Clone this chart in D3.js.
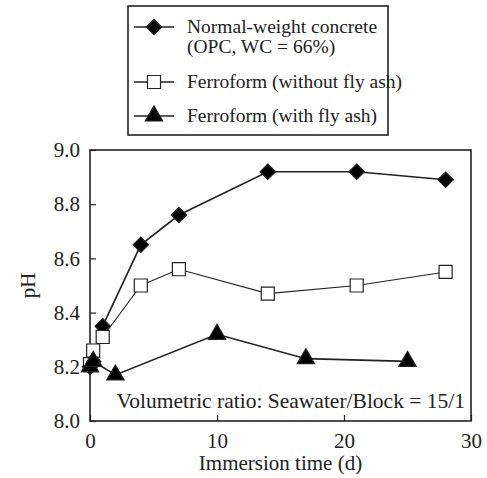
<!DOCTYPE html>
<html>
<head>
<meta charset="utf-8">
<script src="https://cdn.jsdelivr.net/npm/d3@7"></script>
<style>
body { margin: 0; background: #fff; }
text { font-family: "Liberation Serif", "Times New Roman", serif; fill: #222; }
</style>
</head>
<body>
<script>
// data
var normalDays = [0, 0.25, 1, 4, 7, 14, 21, 28];
var normalPH   = [8.20, 8.22, 8.35, 8.65, 8.76, 8.92, 8.92, 8.89];
var noAshDays  = [0, 0.25, 1, 4, 7, 14, 21, 28];
var noAshPH    = [8.21, 8.26, 8.31, 8.50, 8.56, 8.47, 8.50, 8.55];
var ashDays    = [0, 0.25, 2, 10, 17, 25];
var ashPH      = [8.20, 8.22, 8.17, 8.32, 8.23, 8.22];
var xTicks = [0, 10, 20, 30];
var yTicks = [8.0, 8.2, 8.4, 8.6, 8.8, 9.0];
var legendLabels = [["Normal-weight concrete", "(OPC, WC = 66%)"], ["Ferroform (without fly ash)"], ["Ferroform (with fly ash)"]];

var width = 487, height = 478;
var margin = {top: 150, right: 16, bottom: 57, left: 90};
var w = width - margin.left - margin.right,
    h = height - margin.top - margin.bottom;

var svg = d3.select("body").append("svg")
    .attr("width", width)
    .attr("height", height);

var g = svg.append("g")
    .attr("transform", "translate(" + margin.left + "," + margin.top + ")");

var x = d3.scaleLinear().domain([0, 30]).range([0, w]);
var y = d3.scaleLinear().domain([8.0, 9.0]).range([h, 0]);

// frame
g.append("rect")
    .attr("width", w).attr("height", h)
    .attr("fill", "none").attr("stroke", "#222").attr("stroke-width", 1.6);

// axes, ticks pointing inward
var xAxis = g.append("g")
    .attr("transform", "translate(0," + h + ")")
    .call(d3.axisBottom(x).tickValues(xTicks).tickSize(-6).tickPadding(12).tickFormat(d3.format("d")));
var yAxis = g.append("g")
    .call(d3.axisLeft(y).tickValues(yTicks).tickSize(-6).tickPadding(10).tickFormat(d3.format(".1f")));
[xAxis, yAxis].forEach(function(a) {
  a.select(".domain").remove();
  a.selectAll("line").attr("stroke", "#222").attr("stroke-width", 1.2);
  a.selectAll("text").style("font-size", "21px").attr("fill", "#222")
    .style("font-family", "Liberation Serif, serif");
});

g.append("text")
    .attr("x", w / 2).attr("y", h + 49)
    .attr("text-anchor", "middle")
    .style("font-size", "21px")
    .text("Immersion time (d)");

g.append("text")
    .attr("transform", "translate(-55," + (h / 2) + ") rotate(-90)")
    .attr("text-anchor", "middle")
    .style("font-size", "21px")
    .text("pH");

g.append("text")
    .attr("x", w - 6).attr("y", h - 13)
    .attr("text-anchor", "end")
    .style("font-size", "21.5px")
    .text("Volumetric ratio: Seawater/Block = 15/1");

var line = d3.line()
    .x(function(d) { return x(d[0]); })
    .y(function(d) { return y(d[1]); });

function zip(a, b) { return a.map(function(v, i) { return [v, b[i]]; }); }

var series = [
  {pts: zip(normalDays, normalPH), sym: d3.symbolDiamond2, size: 150, fill: "#000", sw: 1.6},
  {pts: zip(noAshDays, noAshPH), sym: d3.symbolSquare, size: 170, fill: "#fff", sw: 1.1},
  {pts: zip(ashDays, ashPH), sym: d3.symbolTriangle, size: 130, fill: "#000", sw: 1.6}
];

series.forEach(function(s) {
  g.append("path")
      .datum(s.pts)
      .attr("d", line)
      .attr("fill", "none")
      .attr("stroke", "#222")
      .attr("stroke-width", s.sw);
});
series.forEach(function(s) {
  g.selectAll(null)
      .data(s.pts)
      .enter().append("path")
      .attr("transform", function(d) { return "translate(" + x(d[0]) + "," + y(d[1]) + ")"; })
      .attr("d", d3.symbol().type(s.sym).size(s.size))
      .attr("fill", s.fill)
      .attr("stroke", "#222")
      .attr("stroke-width", 1.2);
});

// legend
var leg = svg.append("g");
leg.append("rect")
    .attr("x", 128).attr("y", 6).attr("width", 260).attr("height", 129)
    .attr("fill", "#fff").attr("stroke", "#222").attr("stroke-width", 1.6);
var rowY = [27, 82, 116];
series.forEach(function(s, i) {
  var yy = rowY[i];
  leg.append("line")
      .attr("x1", 134).attr("x2", 174).attr("y1", yy).attr("y2", yy)
      .attr("stroke", "#222").attr("stroke-width", 1.6);
  leg.append("path")
      .attr("transform", "translate(154," + yy + ")")
      .attr("d", d3.symbol().type(s.sym).size(s.size))
      .attr("fill", s.fill).attr("stroke", "#222").attr("stroke-width", 1.2);
  legendLabels[i].forEach(function(t, j) {
    leg.append("text")
        .attr("x", 187).attr("y", yy + 6 + j * 20)
        .style("font-size", "19.5px")
        .text(t);
  });
});
</script>
</body>
</html>
